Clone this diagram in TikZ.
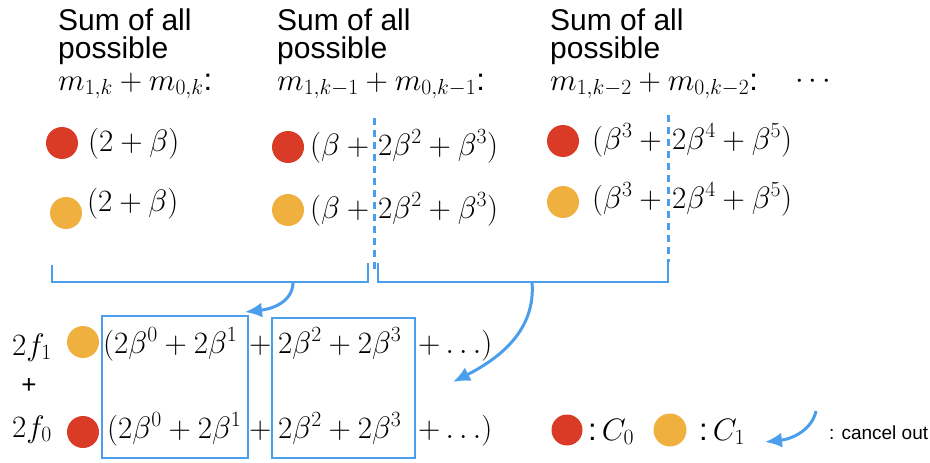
\RequirePackage{fix-cm}
\documentclass[tikz,border=0pt]{standalone}
\usepackage{amsmath,amssymb}
\usepackage{fontspec}
\setsansfont{Liberation Sans}
\usepackage{xcolor}
\usepackage{tikz}
\usetikzlibrary{arrows.meta,positioning,calc}
\definecolor{dotred}{HTML}{D93B26}
\definecolor{dotorange}{HTML}{F0B03F}
\definecolor{lineblue}{HTML}{4A9EEB}

\begin{document}
\begin{tikzpicture}[x=1pt,y=-1pt,>=Latex,font=\fontsize{31}{31}\selectfont]
\tikzstyle{reddot}=[circle,fill=dotred,inner sep=0pt,minimum size=32pt]
\tikzstyle{orangedot}=[circle,fill=dotorange,inner sep=0pt,minimum size=32pt]
\tikzstyle{term}=[anchor=base west,inner sep=0pt]
\tikzstyle{head}=[anchor=north west,inner sep=0pt,align=left,font=\fontsize{30}{28}\selectfont\sffamily]
\tikzstyle{bracket}=[lineblue,line width=1.8pt]
\tikzstyle{cut}=[lineblue,line width=3pt,dash pattern=on 7pt off 5pt]
\tikzstyle{curved}=[-{Latex[length=17pt,width=15pt]},lineblue,line width=3pt]
\useasboundingbox (0,0) rectangle (930,463);

% column headers
\foreach \x/\s/\n in {58/k/a,277/k-1/b,550/k-2/c}{
  \node[head] (sum\n) at (\x,9) {Sum of all\\possible};
  \node[term] (m\n) at (\x,90) {$m_{1,\s}+m_{0,\s}$\textsf{:}};
}
\node[term] (etc) at (795,88) {$\cdots$};

% first column
\node[reddot] (ra) at (62,143) {};
\node[term] (tra) at (88,151) {$(2+\beta)$};
\node[orangedot] (oa) at (66,213) {};
\node[term] (toa) at (87,211) {$(2+\beta)$};

% second column
\node[reddot] (rb) at (288,147) {};
\node[term] (trb) at (310,155) {$(\beta+{}$};
\node[term] (trb2) at (378,155) {$2\beta^2+\beta^3)$};
\node[orangedot] (ob) at (288,210) {};
\node[term] (tob) at (310,218) {$(\beta+{}$};
\node[term] (tob2) at (378,218) {$2\beta^2+\beta^3)$};

% third column
\node[reddot] (rc) at (563,141) {};
\node[term] (trc) at (592,149) {$(\beta^3+{}$};
\node[term] (trc2) at (672,149) {$2\beta^4+\beta^5)$};
\node[orangedot] (oc) at (563,202) {};
\node[term] (toc) at (592,208) {$(\beta^3+{}$};
\node[term] (toc2) at (672,208) {$2\beta^4+\beta^5)$};

% split lines and brackets
\draw[cut] (374,118) -- (374,270);
\draw[cut] (668,115) -- (668,262);
\draw[bracket] (52,265) |- (368,282) -- (368,263);
\draw[bracket] (378,263) |- (668,282) -- (668,262);
\coordinate (lbr) at (293,282);
\coordinate (rbr) at (532,282);

% sums
\node[term] (f1) at (12,355) {$2f_1$};
\node[font=\fontsize{26}{26}\selectfont\sffamily] (plus) at (29,386) {+};
\node[term] (f0) at (12,437) {$2f_0$};
\node[orangedot] (of) at (83,342) {};
\node[reddot] (rf) at (83,432) {};
\node[term] (sa1) at (103,353) {$(2\beta^0+2\beta^1$};
\node[term] (sa2) at (249,353) {$+$};
\node[term] (sa3) at (278,353) {$2\beta^2+2\beta^3$};
\node[term] (sa4) at (418,353) {$+\ldots)$};
\node[term] (sb1) at (107,438) {$(2\beta^0+2\beta^1$};
\node[term] (sb2) at (249,438) {$+$};
\node[term] (sb3) at (278,438) {$2\beta^2+2\beta^3$};
\node[term] (sb4) at (418,438) {$+\ldots)$};
\draw[bracket] (102,316) rectangle (248,458);
\draw[bracket] (272,318) rectangle (415,458);
\coordinate (lhit) at (245,312);
\coordinate (rhit) at (453,382);
\draw[curved] (lbr) .. controls (293,302) and (272,309) .. (lhit);
\draw[curved] (rbr) .. controls (536,330) and (500,358) .. (rhit);

% legend
\node[reddot,minimum size=31pt] (lr) at (567,430) {};
\node[term] (lc0) at (588,440) {\textsf{:}$\,C_0$};
\node[orangedot,minimum size=33pt] (lo) at (670,430) {};
\node[term] (lc1) at (699,440) {\textsf{:}$\,C_1$};
\coordinate (ltop) at (816,411);
\coordinate (lend) at (765,442);
\draw[curved] (ltop) .. controls (812,430) and (792,439) .. (lend);
\node[term,font=\fontsize{19}{19}\selectfont\sffamily] (lcan) at (829,439) {: cancel out};
\end{tikzpicture}
\end{document}
